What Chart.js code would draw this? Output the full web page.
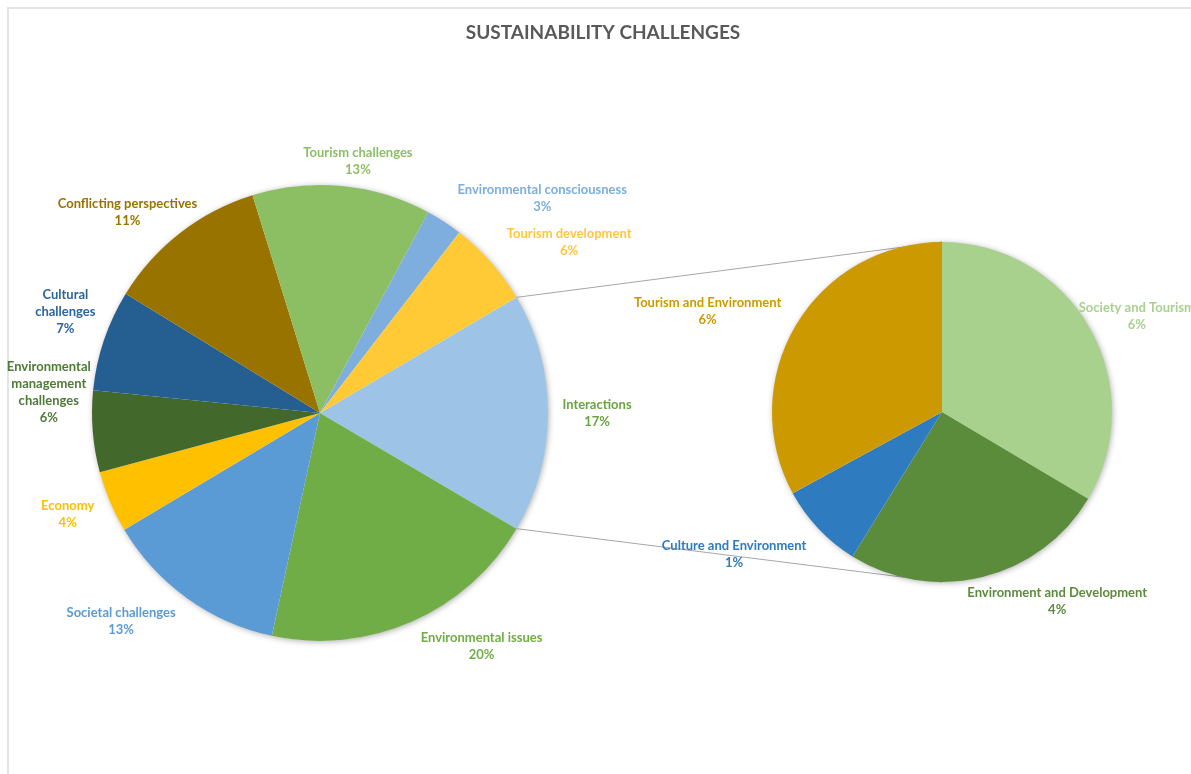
<!DOCTYPE html>
<html>
<head>
<meta charset="utf-8">
<title>Sustainability challenges</title>
<script src="https://cdn.jsdelivr.net/npm/chart.js@4/dist/chart.umd.min.js"></script>
<style>
  html, body { margin: 0; padding: 0; background: #fff; }
  #wrap { position: relative; width: 1191px; height: 774px; overflow: hidden; }
  #wrap canvas { position: absolute; left: 0; top: 0; }
</style>
</head>
<body>
<div id="wrap">
  <canvas id="mainPie" width="1191" height="774"></canvas>
  <canvas id="subPie" width="1191" height="774"></canvas>
</div>
<script>
// ---------------------------------------------------------------
// Data (clockwise, main pie starts with the "Interactions" slice
// that is broken out into the second pie)
// ---------------------------------------------------------------
const mainLabels = [
  'Interactions',
  'Environmental issues',
  'Societal challenges',
  'Economy',
  'Environmental\nmanagement\nchallenges',
  'Cultural\nchallenges',
  'Conflicting perspectives',
  'Tourism challenges',
  'Environmental consciousness',
  'Tourism development',
];
const mainValues = [17.0, 20.0, 13.1, 4.4, 5.8, 7.2, 11.5, 12.7, 2.6, 6.1];
const mainColors = ['#9DC3E6', '#70AD47', '#5B9BD5', '#FFC000', '#43682B',
                    '#255E91', '#997300', '#8CBF64', '#7DAEDD', '#FFCA35'];
const mainTextColors = ['#6AA442', '#70AD47', '#5B9BD5', '#FFC000', '#4E7A36',
                        '#2C64A0', '#997300', '#8CBF64', '#7DAEDD', '#FFC83A'];

const subLabels = ['Society and Tourism', 'Environment and Development',
                   'Culture and Environment', 'Tourism and Environment'];
const subValues = [5.7, 4.3, 1.4, 5.6];
const subColors = ['#A9D18E', '#5B8C3B', '#2E7BC0', '#CC9900'];
const subTextColors = ['#A9D18E', '#5B8C3B', '#2E7BC0', '#CC9900'];

// label placement: [angle nudge in degrees, distance past the rim in px]
const mainLabelNudge = [[0, 49], [-11, 56], [8, 60], [1, 44], [9, 44],
                        [3, 46], [-6, 50], [3, 27], [13, 81], [7, 74]];
const subLabelNudge = [[3.5, 47], [-17.5, 52], [9, 82], [-7.5, 85]];

const FONT_FAMILY = 'Lato, "Open Sans", sans-serif';
const LABEL_FONT = 'bold 13px ' + FONT_FAMILY;
const LINE_H = 17;

const sum = arr => arr.reduce((a, b) => a + b, 0);
const grandTotal = sum(mainValues);

// ---------------------------------------------------------------
// Plugins
// ---------------------------------------------------------------
const pieLabels = {
  id: 'pieLabels',
  afterDatasetsDraw(chart, args, opts) {
    const ctx = chart.ctx;
    const meta = chart.getDatasetMeta(0);
    const vals = chart.data.datasets[0].data;
    ctx.save();
    ctx.font = LABEL_FONT;
    ctx.textAlign = 'center';
    ctx.textBaseline = 'middle';
    meta.data.forEach((arc, i) => {
      const nudge = opts.nudge[i] || [0, 40];
      const mid = (arc.startAngle + arc.endAngle) / 2 + nudge[0] * Math.PI / 180;
      const dist = arc.outerRadius + nudge[1];
      const x = arc.x + Math.cos(mid) * dist;
      const y = arc.y + Math.sin(mid) * dist;
      const lines = opts.names[i].split('\n');
      lines.push(Math.round(vals[i] / opts.total * 100) + '%');
      const top = y - (lines.length - 1) * LINE_H / 2;
      ctx.fillStyle = opts.colors[i];
      lines.forEach((t, k) => ctx.fillText(t, x, top + k * LINE_H));
    });
    ctx.restore();
  }
};

// soft drop shadow behind the whole pie
const pieShadow = {
  id: 'pieShadow',
  beforeDatasetsDraw(chart) {
    const arc = chart.getDatasetMeta(0).data[0];
    if (!arc) return;
    const ctx = chart.ctx;
    ctx.save();
    ctx.shadowColor = 'rgba(0,0,0,0.35)';
    ctx.shadowBlur = 6;
    ctx.shadowOffsetX = 1;
    ctx.shadowOffsetY = 1;
    ctx.fillStyle = '#ffffff';
    ctx.beginPath();
    ctx.arc(arc.x, arc.y, arc.outerRadius - 0.5, 0, Math.PI * 2);
    ctx.fill();
    ctx.restore();
  }
};

// frame + title on the main canvas
const frameTitle = {
  id: 'frameTitle',
  beforeDraw(chart) {
    const ctx = chart.ctx;
    ctx.save();
    ctx.strokeStyle = '#e4e4e4';
    ctx.lineWidth = 2;
    ctx.strokeRect(8, 8, chart.width + 20, chart.height + 20);
    ctx.font = 'bold 19px ' + FONT_FAMILY;
    ctx.fillStyle = '#595959';
    ctx.textAlign = 'center';
    ctx.textBaseline = 'middle';
    ctx.fillText('SUSTAINABILITY CHALLENGES', 603, 33);
    ctx.restore();
  }
};

// connector lines from the "Interactions" slice to the second pie
const connectors = {
  id: 'connectors',
  beforeDatasetsDraw(chart, args, opts) {
    const src = opts.source && opts.source.getDatasetMeta(0).data[0];
    const dst = chart.getDatasetMeta(0).data[0];
    if (!src || !dst) return;
    const ctx = chart.ctx;
    const p1 = [src.x + Math.cos(src.startAngle) * src.outerRadius,
                src.y + Math.sin(src.startAngle) * src.outerRadius];
    const p2 = [src.x + Math.cos(src.endAngle) * src.outerRadius,
                src.y + Math.sin(src.endAngle) * src.outerRadius];
    ctx.save();
    ctx.strokeStyle = '#a6a6a6';
    ctx.lineWidth = 1;
    ctx.beginPath();
    ctx.moveTo(p1[0], p1[1]);
    ctx.lineTo(dst.x, dst.y - dst.outerRadius);
    ctx.moveTo(p2[0], p2[1]);
    ctx.lineTo(dst.x, dst.y + dst.outerRadius);
    ctx.stroke();
    ctx.restore();
  }
};

// ---------------------------------------------------------------
// Charts
// ---------------------------------------------------------------
const baseOptions = {
  responsive: false,
  animation: false,
  events: [],
  borderWidth: 0,
};

const mainChart = new Chart(document.getElementById('mainPie'), {
  type: 'pie',
  data: {
    labels: mainLabels,
    datasets: [{ data: mainValues, backgroundColor: mainColors, borderWidth: 0 }],
  },
  options: {
    ...baseOptions,
    // centre the broken-out slice on 3 o'clock
    rotation: 90 - (mainValues[0] / grandTotal) * 180,
    layout: { padding: { left: 92, top: 185, right: 643, bottom: 133 } },
    plugins: {
      legend: { display: false },
      tooltip: { enabled: false },
      pieLabels: { names: mainLabels, colors: mainTextColors, nudge: mainLabelNudge, total: grandTotal },
    },
  },
  plugins: [frameTitle, pieShadow, pieLabels],
});

new Chart(document.getElementById('subPie'), {
  type: 'pie',
  data: {
    labels: subLabels,
    datasets: [{ data: subValues, backgroundColor: subColors, borderWidth: 0 }],
  },
  options: {
    ...baseOptions,
    layout: { padding: { left: 772, top: 242, right: 79, bottom: 192 } },
    plugins: {
      legend: { display: false },
      tooltip: { enabled: false },
      connectors: { source: mainChart },
      pieLabels: { names: subLabels, colors: subTextColors, nudge: subLabelNudge, total: grandTotal },
    },
  },
  plugins: [connectors, pieShadow, pieLabels],
});
</script>
</body>
</html>
